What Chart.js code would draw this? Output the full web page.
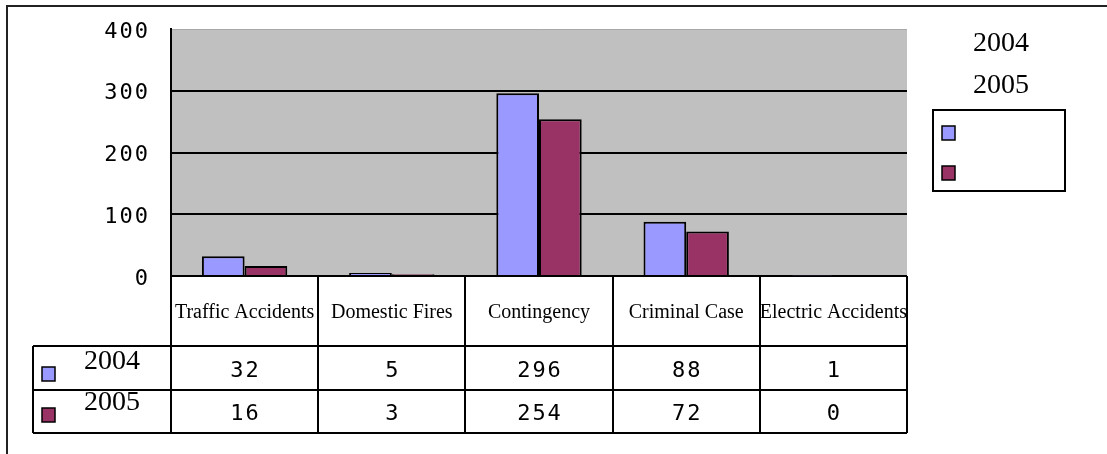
<!DOCTYPE html>
<html>
<head>
<meta charset="utf-8">
<script src="https://cdn.jsdelivr.net/npm/chart.js@4/dist/chart.umd.min.js"></script>
<style>
html, body { margin: 0; padding: 0; background: #fff; }
canvas { display: block; }
</style>
</head>
<body>
<canvas id="myChart" width="1107" height="454"></canvas>
<script>
// values
const categories = ['Traffic Accidents', 'Domestic Fires', 'Contingency', 'Criminal Case', 'Electric Accidents'];
const seriesNames = ['2004', '2005'];
const values2004 = [32, 5, 296, 88, 1];
const values2005 = [16, 3, 254, 72, 0];
const yTicks = [0, 100, 200, 300, 400];
const seriesColors = ['#9999ff', '#993366'];

const monoFont = '"DejaVu Sans Mono", monospace';
const serifFont = '"Liberation Serif", "Times New Roman", serif';

// gray plot area, data table under the axis, legend box on the right
const excelBits = {
  id: 'excelBits',
  beforeDraw(chart) {
    const { ctx, chartArea } = chart;
    ctx.save();
    ctx.fillStyle = '#c0c0c0';
    ctx.fillRect(chartArea.left, chartArea.top, chartArea.right - chartArea.left, chartArea.bottom - chartArea.top);
    ctx.restore();
    ctx.letterSpacing = '2px';
  },
  beforeDatasetsDraw(chart) {
    chart.ctx.letterSpacing = '0px';
  },
  afterDraw(chart) {
    const { ctx, chartArea } = chart;
    const xs = chart.scales.x;
    const n = categories.length;
    const w = (xs.right - xs.left) / n;
    const top = chartArea.bottom;
    const headBottom = 346, row1 = 390, row2 = 433, tableLeft = 33;
    const rows = chart.data.datasets;

    ctx.save();
    // outer frame
    ctx.strokeStyle = '#222';
    ctx.lineWidth = 2;
    ctx.beginPath();
    ctx.moveTo(7, 454); ctx.lineTo(7, 6); ctx.lineTo(1107, 6);
    ctx.stroke();

    // table lines
    ctx.strokeStyle = '#000';
    ctx.lineWidth = 2;
    ctx.beginPath();
    for (let i = 0; i <= n; i++) {
      const x = Math.round(xs.left + i * w);
      ctx.moveTo(x, top); ctx.lineTo(x, row2);
    }
    [headBottom, row1, row2].forEach(y => { ctx.moveTo(tableLeft, y); ctx.lineTo(xs.right, y); });
    ctx.moveTo(tableLeft, headBottom); ctx.lineTo(tableLeft, row2);
    ctx.stroke();

    // header labels
    ctx.fillStyle = '#000';
    ctx.textAlign = 'center';
    ctx.textBaseline = 'middle';
    ctx.font = '20px ' + serifFont;
    categories.forEach((c, i) => ctx.fillText(c, xs.getPixelForValue(i), 313));

    // values
    ctx.font = '22px ' + monoFont;
    ctx.letterSpacing = '2px';
    const rowMid = [371, 414];
    rows.forEach((ds, r) => {
      ds.data.forEach((v, i) => ctx.fillText(String(v), xs.getPixelForValue(i) + 1, rowMid[r]));
    });
    ctx.letterSpacing = '0px';

    // row headers
    const rowLabelY = [362, 403];
    const keyY = [367, 408];
    rows.forEach((ds, r) => {
      ctx.fillStyle = ds.backgroundColor;
      ctx.fillRect(42, keyY[r], 13, 14);
      ctx.lineWidth = 1.5;
      ctx.strokeStyle = '#000';
      ctx.strokeRect(42, keyY[r], 13, 14);
      ctx.fillStyle = '#000';
      ctx.font = '28px ' + serifFont;
      ctx.fillText(ds.label, 112, rowLabelY[r]);
    });

    // legend
    ctx.lineWidth = 2;
    ctx.strokeStyle = '#000';
    ctx.strokeRect(933, 110, 132, 81);
    const legKeyY = [126, 166];
    const legTextY = [44, 86];
    rows.forEach((ds, r) => {
      ctx.fillStyle = ds.backgroundColor;
      ctx.fillRect(942, legKeyY[r], 13, 14);
      ctx.lineWidth = 1.5;
      ctx.strokeRect(942, legKeyY[r], 13, 14);
      ctx.fillStyle = '#000';
      ctx.font = '28px ' + serifFont;
      ctx.fillText(ds.label, 1001, legTextY[r]);
    });
    ctx.restore();
  }
};

const ctx = document.getElementById('myChart').getContext('2d');
const chart = new Chart(ctx, {
  type: 'bar',
  data: {
    labels: categories,
    datasets: [
      { label: seriesNames[0], data: values2004, backgroundColor: seriesColors[0] },
      { label: seriesNames[1], data: values2005, backgroundColor: seriesColors[1] }
    ]
  },
  options: {
    responsive: false,
    animation: false,
    devicePixelRatio: 1,
    layout: { padding: { top: 29, right: 200, bottom: 178, left: 0 } },
    datasets: {
      bar: { categoryPercentage: 0.58, barPercentage: 1, borderColor: '#000', borderWidth: 2 }
    },
    plugins: { legend: { display: false }, tooltip: { enabled: false } },
    scales: {
      x: { display: false },
      y: {
        min: yTicks[0],
        max: yTicks[yTicks.length - 1],
        afterFit: s => { s.width = 171; s.paddingTop = 0; s.paddingBottom = 0; },
        afterBuildTicks: s => { s.ticks = yTicks.map(v => ({ value: v })); },
        grid: {
          drawTicks: false,
          color: c => c.tick && c.tick.value === 400 ? '#a8a8a8' : '#000',
          lineWidth: c => c.tick && c.tick.value === 400 ? 1 : 2
        },
        border: { color: '#000', width: 2 },
        ticks: { color: '#000', padding: 21, labelOffset: 3, font: { family: monoFont, size: 22 } }
      }
    }
  },
  plugins: [excelBits]
});
</script>
</body>
</html>
